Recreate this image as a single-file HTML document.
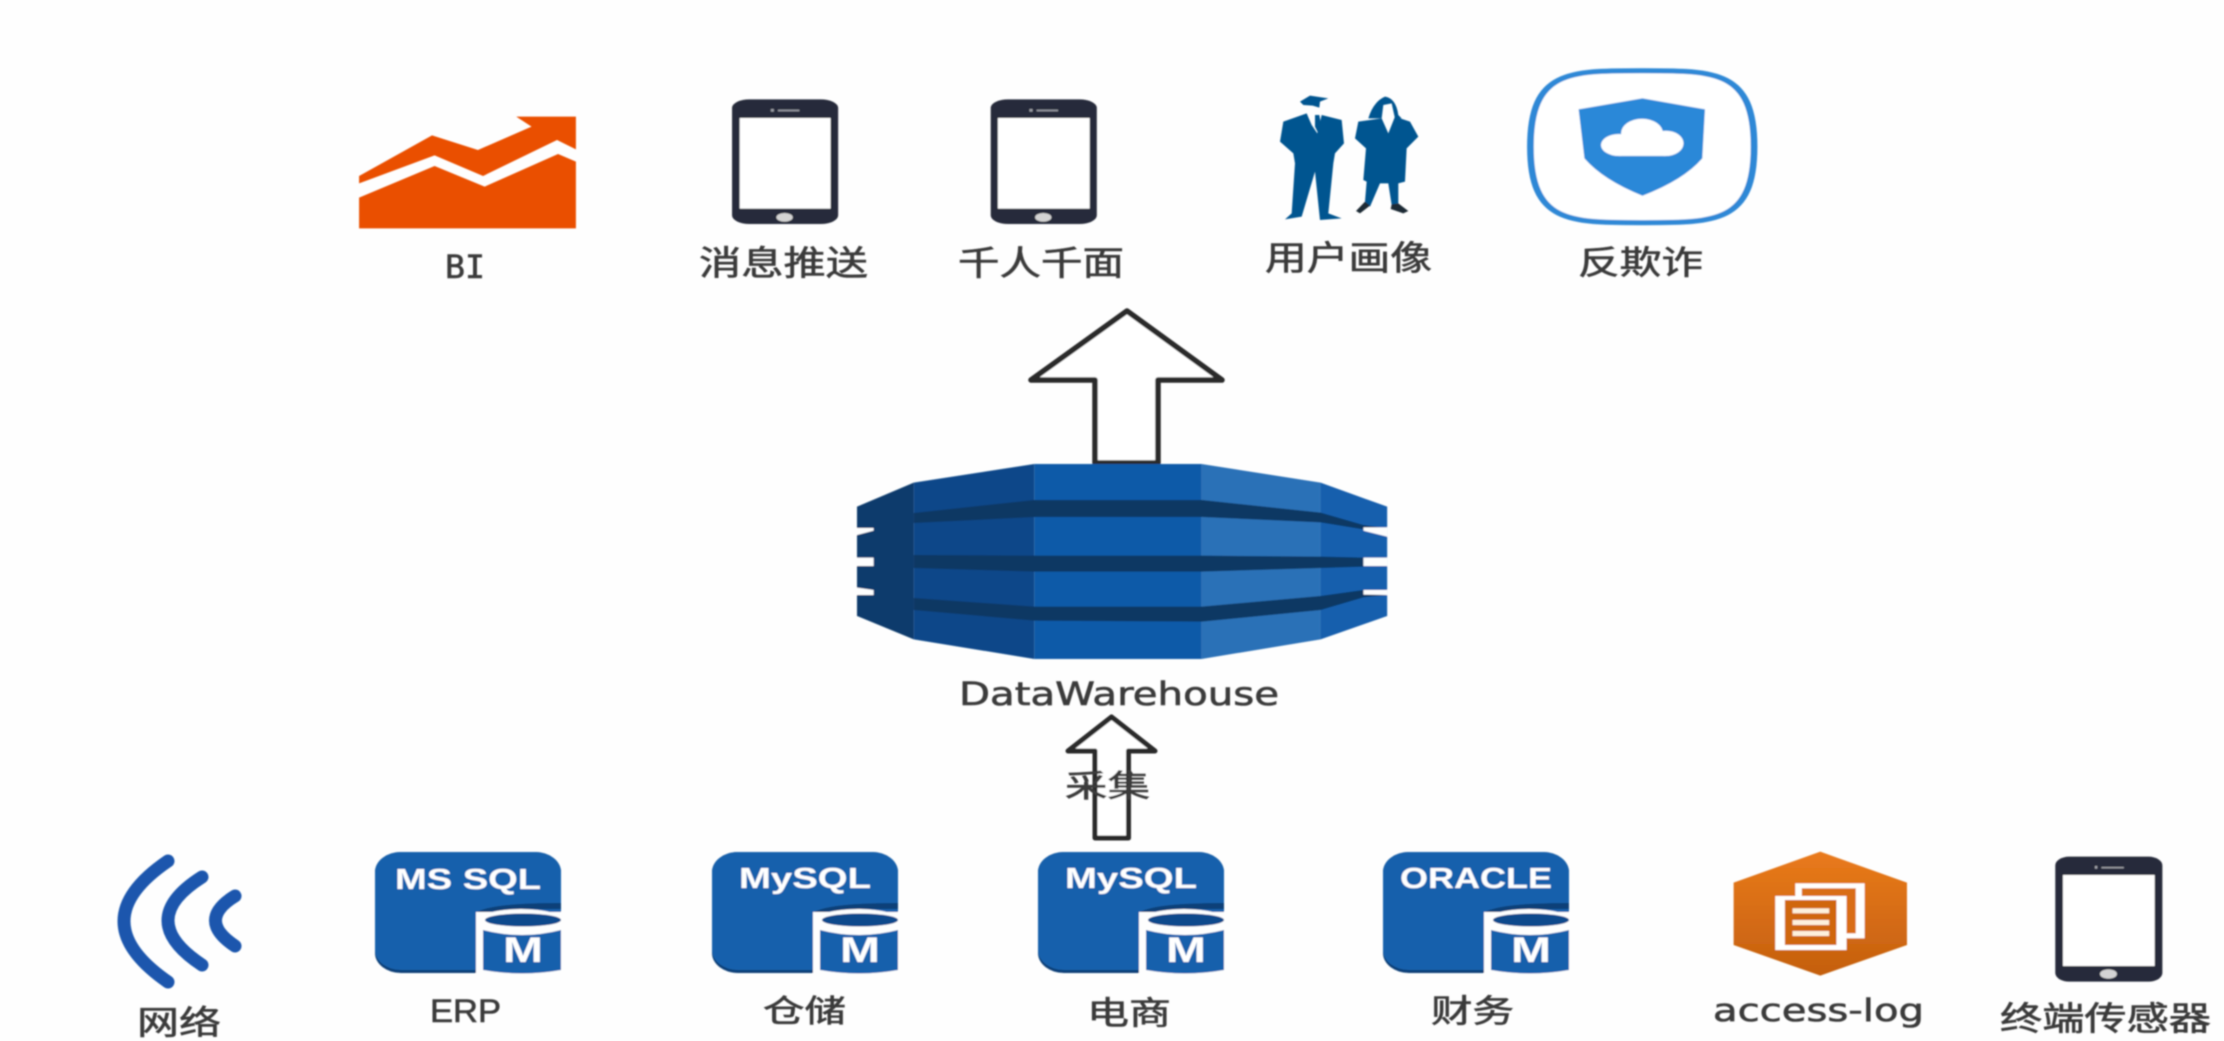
<!DOCTYPE html>
<html lang="zh">
<head>
<meta charset="utf-8">
<title>DataWarehouse</title>
<style>
html,body{margin:0;padding:0;background:#fefefe;width:2224px;height:1041px;overflow:hidden}
svg{display:block}
.c{font-family:"Liberation Sans","Noto Sans CJK SC",sans-serif;fill:#3a3a3a;stroke:#3a3a3a;stroke-width:.6}
.d{font-family:"DejaVu Sans","Liberation Sans",sans-serif;fill:#3a3a3a;stroke:#3a3a3a;stroke-width:.6}
.t{font-family:"Liberation Sans",sans-serif;font-weight:700;fill:#fff;font-size:29px}
.m{font-family:"Liberation Sans",sans-serif;font-weight:700;fill:#fff;font-size:35px}
</style>
</head>
<body>
<svg width="2224" height="1041" viewBox="0 0 2224 1041" xmlns="http://www.w3.org/2000/svg">
<defs>
<filter id="b" filterUnits="userSpaceOnUse" x="0" y="0" width="2224" height="1041"><feGaussianBlur stdDeviation="0.9"/></filter>
<linearGradient id="og" x1="0" y1="0" x2="0" y2="1"><stop offset="0" stop-color="#e97a1b"/><stop offset="1" stop-color="#c45f0e"/></linearGradient>
</defs>
<rect width="2224" height="1041" fill="#fefefe"/>
<g filter="url(#b)">

<!-- top row -->
<g transform="translate(330,50) scale(.5102,.3333)">
  <polygon fill="#ea4f00" points="57,378 200,256 290,300 395,230 365,200 482,200 482,298 445,270 300,378 205,316 57,400"/>
  <polygon fill="#ea4f00" points="57,443 205,348 303,410 447,312 482,335 482,535 57,535"/>
  <rect x="788" y="148" width="208" height="374" rx="34" ry="26" fill="#262b3a"/>
  <rect x="803" y="204" width="178" height="272" fill="#fff"/>
  <ellipse cx="891" cy="502" rx="16" ry="13" fill="#d4d4d4"/>
  <rect x="878" y="179" width="42" height="5" fill="#9a9ca4"/>
  <rect x="864" y="177" width="6" height="8" fill="#9a9ca4"/>
  <g transform="translate(507,0)">
    <rect x="788" y="148" width="208" height="374" rx="34" ry="26" fill="#262b3a"/>
    <rect x="802" y="204" width="180" height="272" fill="#fff"/>
    <ellipse cx="891" cy="502" rx="16" ry="13" fill="#d4d4d4"/>
    <rect x="878" y="179" width="42" height="5" fill="#9a9ca4"/>
    <rect x="864" y="177" width="6" height="8" fill="#9a9ca4"/>
  </g>
</g>

<text class="d" style="font-family:'DejaVu Sans Mono','DejaVu Sans',monospace" x="445" y="278" font-size="32" textLength="40" lengthAdjust="spacingAndGlyphs">BI</text>
<text class="c" x="699" y="275" font-size="34" textLength="169" lengthAdjust="spacingAndGlyphs">消息推送</text>
<text class="c" x="958" y="275" font-size="34" textLength="166" lengthAdjust="spacingAndGlyphs">千人千面</text>
<text class="c" x="1265" y="270" font-size="34" textLength="167" lengthAdjust="spacingAndGlyphs">用户画像</text>
<text class="c" x="1578" y="274" font-size="33" textLength="125" lengthAdjust="spacingAndGlyphs">反欺诈</text>

<!-- people -->
<g transform="translate(1270,85) scale(.3333)">
  <g fill="#005490">
    <path d="M90,50 L120,32 L175,40 L150,50 L148,68 L128,62 L100,60Z"/>
    <path d="M40,110 L110,85 L125,120 L142,145 L155,90 L215,105 L222,175 L195,205 L190,235 L175,385 L215,400 L150,405 L135,260 L95,395 L45,403 L65,385 L75,235 L70,205 L30,170Z"/>
    <path d="M295,100 Q310,50 345,35 Q378,40 385,90 L395,100 L375,100 L365,55 L340,60 L335,100Z"/>
    <path d="M265,110 L335,100 L355,145 L375,95 L420,110 L445,155 L410,190 L405,290 L385,295 L385,355 L365,360 L355,295 L330,295 L300,365 L285,350 L290,290 L280,285 L288,190 L255,160Z"/>
    <path d="M135,90 L148,90 L155,130 L145,145 L135,125Z"/>
  </g>
  <g fill="#1f2b36">
    <path d="M285,350 L300,362 L270,385 L258,378Z"/>
    <path d="M365,358 L385,355 L415,378 L400,385 L362,372Z"/>
  </g>
</g>

<!-- shield -->
<g transform="translate(1130,50) scale(.4464,.3333)">
  <path d="M1148,62 C1310,62 1398,60 1398,290 C1398,520 1310,518 1148,518 C985,518 897,520 897,290 C897,60 985,62 1148,62Z" fill="#fff" stroke="#2f88d6" stroke-width="15"/>
  <path d="M1148,145 L1288,178 L1282,325 Q1240,390 1148,437 Q1060,390 1018,325 L1005,178 Z" fill="#2b88d8"/>
  <g fill="#fff">
    <ellipse cx="1095" cy="285" rx="40" ry="33"/>
    <ellipse cx="1147" cy="250" rx="47" ry="44"/>
    <ellipse cx="1200" cy="280" rx="40" ry="38"/>
    <rect x="1095" y="275" width="105" height="43"/>
  </g>
</g>

<!-- top arrow -->
<polygon points="1127,311 1031,380 1095,380 1095,463 1158,463 1158,380 1222,380" fill="#fff" stroke="#2b2b2b" stroke-width="5.5" stroke-linejoin="round"/>

<!-- data warehouse -->
<g transform="translate(820,290) scale(.3827,.3333)">
  <polygon fill="#0c3a6c" points="97,650 245,578 245,1048 97,978"/>
  <polygon fill="#0a4689" points="245,578 560,522 560,1107 245,1048"/>
  <rect x="560" y="522" width="437" height="585" fill="#0f5aa8"/>
  <polygon fill="#2b71b7" points="997,522 1308,578 1308,1048 997,1107"/>
  <polygon fill="#135fad" points="1308,578 1482,650 1482,978 1308,1048"/>
  <g fill="#0e3764">
    <polygon points="245,669 560,630 998,630 1308,668 1420,705 1482,716 1420,718 1308,697 998,681 560,681 245,699"/>
    <polygon points="245,795 560,797 998,797 1308,800 1420,803 1420,830 1308,834 998,845 560,845 245,834"/>
    <polygon points="245,924 560,950 998,950 1308,918 1420,900 1482,915 1420,922 1308,960 998,995 560,992 245,960"/>
  </g>
  <g fill="#fefefe">
    <polygon points="97,714 140,714 140,722 97,735"/>
    <rect x="97" y="803" width="43" height="25"/>
    <polygon points="97,893 140,900 140,915 97,915"/>
    <polygon points="1420,712 1482,712 1482,740 1420,722"/>
    <rect x="1420" y="803" width="62" height="25"/>
    <polygon points="1420,900 1482,900 1482,915 1420,914"/>
  </g>
</g>
<text class="d" x="959" y="705" font-size="32" textLength="320" lengthAdjust="spacingAndGlyphs">DataWarehouse</text>

<!-- lower arrow -->
<polygon points="1111.5,717 1068,751 1095,751 1095,838 1128.5,838 1128.5,751 1155,751" fill="#fff" stroke="#2b2b2b" stroke-width="5" stroke-linejoin="round"/>
<text class="c" x="1065" y="797" font-size="31" textLength="85" lengthAdjust="spacingAndGlyphs">采集</text>

<!-- network -->
<g fill="none" stroke="#1b57ad" stroke-width="13" stroke-linecap="round">
  <path d="M168,861 Q80,921 168,982"/>
  <path d="M202,877 Q134,920 202,965"/>
  <path d="M235,896 Q196,920 235,946"/>
</g>
<text class="c" x="137" y="1034" font-size="33" textLength="84" lengthAdjust="spacingAndGlyphs">网络</text>

<!-- DB: MS SQL -->
<g transform="translate(375,852)">
  <rect x="0" y="0" width="186" height="121" rx="26" ry="20" fill="#0e3f78"/>
  <rect x="0" y="0" width="186" height="118" rx="26" ry="20" fill="#1560ac"/>
  <path d="M102,122 L102,60 Q118,51 186,51 L186,57 Q120,57 102,62Z" fill="#0e3f78"/>
  <rect x="101" y="60" width="90" height="68" fill="#fefefe"/>
  <ellipse cx="146" cy="68" rx="42" ry="11" fill="#fefefe"/>
  <path d="M108,78 Q147,88 186,78 L186,118 Q147,125 108,118Z" fill="#1560ac"/>
  <ellipse cx="148" cy="68" rx="38" ry="6.5" fill="#0f4a8c"/>
  <text class="m" x="128" y="110" textLength="40" lengthAdjust="spacingAndGlyphs">M</text>
  <text class="t" x="20" y="37" textLength="146" lengthAdjust="spacingAndGlyphs">MS SQL</text>
</g>
<text class="c" style="font-size:32px" x="430" y="1022" textLength="71" lengthAdjust="spacingAndGlyphs">ERP</text>

<!-- DB: MySQL -->
<g transform="translate(712,852)">
  <rect x="0" y="0" width="186" height="121" rx="26" ry="20" fill="#0e3f78"/>
  <rect x="0" y="0" width="186" height="118" rx="26" ry="20" fill="#1560ac"/>
  <path d="M102,122 L102,60 Q118,51 186,51 L186,57 Q120,57 102,62Z" fill="#0e3f78"/>
  <rect x="101" y="60" width="90" height="68" fill="#fefefe"/>
  <ellipse cx="146" cy="68" rx="42" ry="11" fill="#fefefe"/>
  <path d="M108,78 Q147,88 186,78 L186,118 Q147,125 108,118Z" fill="#1560ac"/>
  <ellipse cx="148" cy="68" rx="38" ry="6.5" fill="#0f4a8c"/>
  <text class="m" x="128" y="110" textLength="40" lengthAdjust="spacingAndGlyphs">M</text>
  <text class="t" x="27" y="36" textLength="132" lengthAdjust="spacingAndGlyphs">MySQL</text>
</g>
<text class="c" x="763" y="1022" font-size="31" textLength="83" lengthAdjust="spacingAndGlyphs">仓储</text>

<!-- DB: MySQL 2 -->
<g transform="translate(1038,852)">
  <rect x="0" y="0" width="186" height="121" rx="26" ry="20" fill="#0e3f78"/>
  <rect x="0" y="0" width="186" height="118" rx="26" ry="20" fill="#1560ac"/>
  <path d="M102,122 L102,60 Q118,51 186,51 L186,57 Q120,57 102,62Z" fill="#0e3f78"/>
  <rect x="101" y="60" width="90" height="68" fill="#fefefe"/>
  <ellipse cx="146" cy="68" rx="42" ry="11" fill="#fefefe"/>
  <path d="M108,78 Q147,88 186,78 L186,118 Q147,125 108,118Z" fill="#1560ac"/>
  <ellipse cx="148" cy="68" rx="38" ry="6.5" fill="#0f4a8c"/>
  <text class="m" x="128" y="110" textLength="40" lengthAdjust="spacingAndGlyphs">M</text>
  <text class="t" x="27" y="36" textLength="132" lengthAdjust="spacingAndGlyphs">MySQL</text>
</g>
<text class="c" x="1087" y="1024" font-size="32" textLength="84" lengthAdjust="spacingAndGlyphs">电商</text>

<!-- DB: Oracle -->
<g transform="translate(1383,852)">
  <rect x="0" y="0" width="186" height="121" rx="26" ry="20" fill="#0e3f78"/>
  <rect x="0" y="0" width="186" height="118" rx="26" ry="20" fill="#1560ac"/>
  <path d="M102,122 L102,60 Q118,51 186,51 L186,57 Q120,57 102,62Z" fill="#0e3f78"/>
  <rect x="101" y="60" width="90" height="68" fill="#fefefe"/>
  <ellipse cx="146" cy="68" rx="42" ry="11" fill="#fefefe"/>
  <path d="M108,78 Q147,88 186,78 L186,118 Q147,125 108,118Z" fill="#1560ac"/>
  <ellipse cx="148" cy="68" rx="38" ry="6.5" fill="#0f4a8c"/>
  <text class="m" x="128" y="110" textLength="40" lengthAdjust="spacingAndGlyphs">M</text>
  <text class="t" x="17" y="36" textLength="152" lengthAdjust="spacingAndGlyphs">ORACLE</text>
</g>
<text class="c" x="1431" y="1022" font-size="32" textLength="83" lengthAdjust="spacingAndGlyphs">财务</text>

<!-- access-log and tablet -->
<g transform="translate(1620,820) scale(.3852,.3333)">
  <polygon fill="url(#og)" points="520,95 745,188 745,375 520,467 295,375 295,188"/>
  <rect x="455" y="190" width="180" height="165" fill="#fff"/>
  <rect x="472" y="205" width="140" height="135" fill="#d96d14"/>
  <rect x="403" y="228" width="185" height="162" fill="#fff"/>
  <rect x="428" y="240" width="134" height="135" fill="#d0660f"/>
  <rect x="448" y="265" width="95" height="15" fill="#fdf0dd"/>
  <rect x="448" y="300" width="95" height="15" fill="#fdf0dd"/>
  <rect x="448" y="333" width="95" height="15" fill="#fdf0dd"/>
  <rect x="1130" y="110" width="278" height="375" rx="36" ry="26" fill="#262b3a"/>
  <rect x="1150" y="165" width="238" height="273" fill="#fff"/>
  <ellipse cx="1268" cy="462" rx="22" ry="14" fill="#d4d4d4"/>
  <rect x="1250" y="141" width="58" height="4" fill="#a5a7ae"/>
  <rect x="1233" y="138" width="6" height="8" fill="#a5a7ae"/>
</g>
<text class="d" x="1713" y="1021" font-size="31" textLength="211" lengthAdjust="spacingAndGlyphs">access-log</text>
<text class="c" x="2000" y="1030" font-size="33" textLength="211" lengthAdjust="spacingAndGlyphs">终端传感器</text>

</g>
</svg>
</body>
</html>
